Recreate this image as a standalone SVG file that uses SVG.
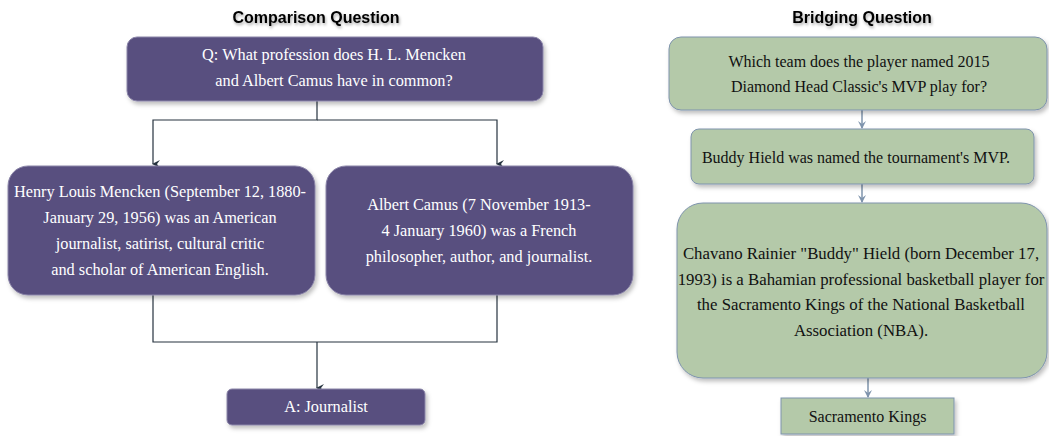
<svg xmlns="http://www.w3.org/2000/svg" width="1049" height="436" viewBox="0 0 1049 436">
<defs>
<filter id="sh" x="-10%" y="-10%" width="125%" height="135%">
<feDropShadow dx="2" dy="3" stdDeviation="2" flood-color="#000" flood-opacity="0.25"/>
</filter>
<filter id="tsh" x="-10%" y="-30%" width="125%" height="180%">
<feDropShadow dx="1" dy="2" stdDeviation="1.5" flood-color="#000" flood-opacity="0.35"/>
</filter>
<marker id="ad" markerWidth="10" markerHeight="10" refX="5" refY="8" orient="auto-start-reverse" markerUnits="userSpaceOnUse" viewBox="0 0 10 10">
<path d="M1 1 L5 4 L9 1 L5 9 Z" fill="#26333f"/>
</marker>
<marker id="ag" markerWidth="10" markerHeight="10" refX="5" refY="8" markerUnits="userSpaceOnUse" viewBox="0 0 10 10">
<path d="M1 1 L5 4 L9 1 L5 9 Z" fill="#7f94ad"/>
</marker>
</defs>
<style>
.title{font-family:"Liberation Sans",Arial,sans-serif;font-weight:bold;font-size:16px;fill:#000;text-anchor:middle}
.pb{fill:#59507f;stroke:#8a84a8;stroke-width:1}
.gb{fill:#b4c9a9;stroke:#7e93ad;stroke-width:1}
.pt{font-family:"Liberation Serif","Times New Roman",serif;font-size:16.3px;fill:#fff;text-anchor:middle}
.gt{font-family:"Liberation Serif","Times New Roman",serif;font-size:16px;fill:#111;text-anchor:middle}
.big{font-size:16.8px}
.cd{fill:none;stroke:#26333f;stroke-width:1.2}
.cg{fill:none;stroke:#7f94ad;stroke-width:1.5}
</style>
<rect width="1049" height="436" fill="#fff"/>

<text class="title" x="316" y="23" filter="url(#tsh)">Comparison Question</text>
<text class="title" x="862" y="23" filter="url(#tsh)">Bridging Question</text>

<g id="connectors">
<path class="cd" d="M317 101 V120 H153 V164" marker-end="url(#ad)"/>
<path class="cd" d="M317 120 H497 V164" marker-end="url(#ad)"/>
<path class="cd" d="M153 295 V342 H497 V295"/>
<path class="cd" d="M317 342 V388" marker-end="url(#ad)"/>
<path class="cg" d="M862 110 V128" marker-end="url(#ag)"/>
<path class="cg" d="M862 184 V202" marker-end="url(#ag)"/>
<path class="cg" d="M868 378 V397" marker-end="url(#ag)"/>
</g>

<g id="q1">
<rect class="pb" x="127" y="37" width="416" height="64" rx="10" filter="url(#sh)"/>
<text class="pt" x="334" y="60">Q: What profession does H. L. Mencken</text>
<text class="pt" x="334" y="86">and Albert Camus have in common?</text>
</g>

<g id="mencken">
<rect class="pb" x="8" y="166" width="307" height="129" rx="20" filter="url(#sh)"/>
<text class="pt" x="160" y="197">Henry Louis Mencken (September 12, 1880-</text>
<text class="pt" x="160" y="223">January 29, 1956) was an American</text>
<text class="pt" x="160" y="249">journalist, satirist, cultural critic</text>
<text class="pt" x="160" y="275">and scholar of American English.</text>
</g>

<g id="camus">
<rect class="pb" x="326" y="166" width="307" height="129" rx="20" filter="url(#sh)"/>
<text class="pt" x="479" y="210">Albert Camus (7 November 1913-</text>
<text class="pt" x="479" y="236">4 January 1960) was a French</text>
<text class="pt" x="479" y="262">philosopher, author, and journalist.</text>
</g>

<g id="answer1">
<rect class="pb" x="227" y="389" width="198" height="36" rx="5" filter="url(#sh)"/>
<text class="pt" x="326" y="412">A: Journalist</text>
</g>

<g id="q2">
<rect class="gb" x="669" y="37" width="378" height="73" rx="12" filter="url(#sh)"/>
<text class="gt" x="859" y="67">Which team does the player named 2015</text>
<text class="gt" x="859" y="92">Diamond Head Classic's MVP play for?</text>
</g>

<g id="buddy">
<rect class="gb" x="691" y="129" width="343" height="55" rx="8" filter="url(#sh)"/>
<text class="gt" x="856" y="163">Buddy Hield was named the tournament's MVP.</text>
</g>

<g id="chavano">
<rect class="gb" x="677" y="203" width="370" height="175" rx="26" filter="url(#sh)"/>
<text class="gt big" x="861" y="259">Chavano Rainier "Buddy" Hield (born December 17,</text>
<text class="gt big" x="861" y="284.5">1993) is a Bahamian professional basketball player for</text>
<text class="gt big" x="861" y="310">the Sacramento Kings of the National Basketball</text>
<text class="gt big" x="861" y="335.5">Association (NBA).</text>
</g>

<g id="answer2">
<rect class="gb" x="781" y="398" width="173" height="36" rx="0" filter="url(#sh)"/>
<text class="gt" x="867.5" y="422">Sacramento Kings</text>
</g>
</svg>
